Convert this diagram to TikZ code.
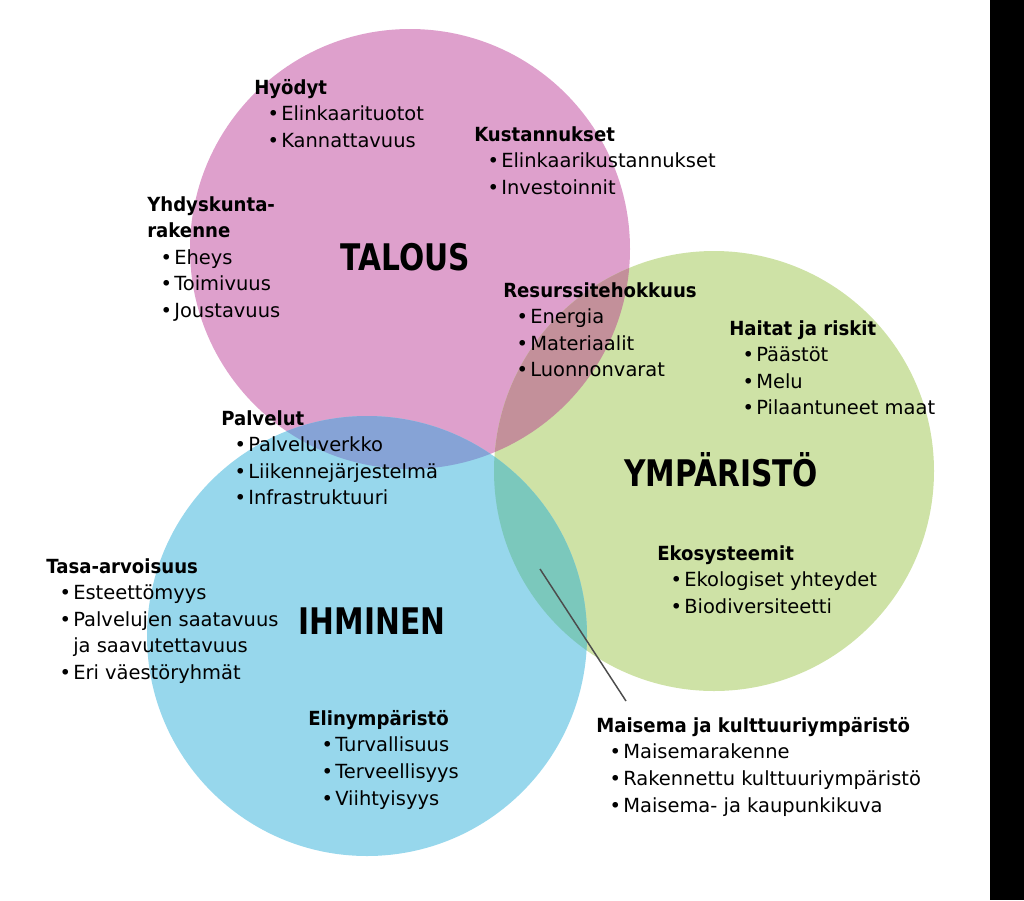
\documentclass[tikz,border=0pt]{standalone}
\usepackage{fontspec}
\setmainfont{DejaVu Sans}
\usepackage{graphicx}
\usetikzlibrary{positioning}
\definecolor{talpink}{RGB}{222,160,204}
\definecolor{ympgreen}{RGB}{206,226,166}
\definecolor{ihmblue}{RGB}{151,215,236}
\definecolor{talymp}{RGB}{195,144,154}
\definecolor{talihm}{RGB}{134,163,214}
\definecolor{ihmymp}{RGB}{123,200,188}
\tikzstyle{block} = [
    anchor=north west,
    inner sep=0pt,
    align=left,
    font=\fontsize{14.6}{19.95}\selectfont
]
\tikzstyle{title} = [
    anchor=base,
    inner sep=0pt,
    font=\fontsize{27.5}{30}\selectfont\bfseries
]
\tikzstyle{leader} = [
    draw=black!70,
    line width=1.1pt
]
\newcommand{\bul}{\hspace*{10pt}\makebox[10.25pt][l]{•}}
\newcommand{\hd}[1]{\scalebox{0.93}[1]{\textbf{#1}}}

\begin{document}
\begin{tikzpicture}[x=0.75pt, y=-0.75pt]
        \useasboundingbox (0,0) rectangle (1024,900);

        % Circle centres
        \coordinate (ctal) at (410,249);
        \coordinate (cymp) at (714,471);
        \coordinate (cihm) at (367,636);

        % Circles
        \fill[talpink] (ctal) circle [radius=220];
        \fill[ympgreen] (cymp) circle [radius=220];
        \fill[ihmblue] (cihm) circle [radius=220];

        % Overlaps
        \begin{scope}
            \clip (ctal) circle [radius=220];
            \fill[talymp] (cymp) circle [radius=220];
            \fill[talihm] (cihm) circle [radius=220];
        \end{scope}
        \begin{scope}
            \clip (cymp) circle [radius=220];
            \fill[ihmymp] (cihm) circle [radius=220];
        \end{scope}

        % Edge strip
        \fill[black] (990,0) rectangle (1024,900);

        % Titles
        \node[title] (talous) at (405,270) {\scalebox{0.81}[1]{TALOUS}};
        \node[title] (ymparisto) at (721,486) {\scalebox{0.81}[1]{YMPÄRISTÖ}};
        \node[title] (ihminen) at (372,634) {\scalebox{0.81}[1]{IHMINEN}};

        % Talous
        \node[block] (hyodyt) at (254,79) {\hd{Hyödyt}\\\bul Elinkaarituotot\\\bul Kannattavuus};
        \node[block] (kustannukset) at (474,126) {\hd{Kustannukset}\\\bul Elinkaarikustannukset\\\bul Investoinnit};
        \node[block] (yhdyskunta) at (147,196) {\hd{Yhdyskunta-}\\\hd{rakenne}\\\bul Eheys\\\bul Toimivuus\\\bul Joustavuus};
        \node[block] (resurssit) at (503,282) {\hd{Resurssitehokkuus}\\\bul Energia\\\bul Materiaalit\\\bul Luonnonvarat};

        % Ympäristö
        \node[block] (haitat) at (729,320) {\hd{Haitat ja riskit}\\\bul Päästöt\\\bul Melu\\\bul Pilaantuneet maat};
        \node[block] (ekosysteemit) at (657,545) {\hd{Ekosysteemit}\\\bul Ekologiset yhteydet\\\bul Biodiversiteetti};

        % Ihminen
        \node[block] (palvelut) at (221,410) {\hd{Palvelut}\\\bul Palveluverkko\\\bul Liikennejärjestelmä\\\bul Infrastruktuuri};
        \node[block] (tasa) at (46,558) {\hd{Tasa-arvoisuus}\\\bul Esteettömyys\\\bul Palvelujen saatavuus\\\hspace*{20.25pt}ja saavutettavuus\\\bul Eri väestöryhmät};
        \node[block] (elinymp) at (308,710) {\hd{Elinympäristö}\\\bul Turvallisuus\\\bul Terveellisyys\\\bul Viihtyisyys};

        % Maisema with leader
        \node[block] (maisema) at (596,717) {\hd{Maisema ja kulttuuriympäristö}\\\bul Maisemarakenne\\\bul Rakennettu kulttuuriympäristö\\\bul Maisema- ja kaupunkikuva};
        \coordinate (mtip) at (540,569);
        \coordinate (mend) at (626,701);
        \draw[leader] (mtip) -- (mend);
\end{tikzpicture}
\end{document}
